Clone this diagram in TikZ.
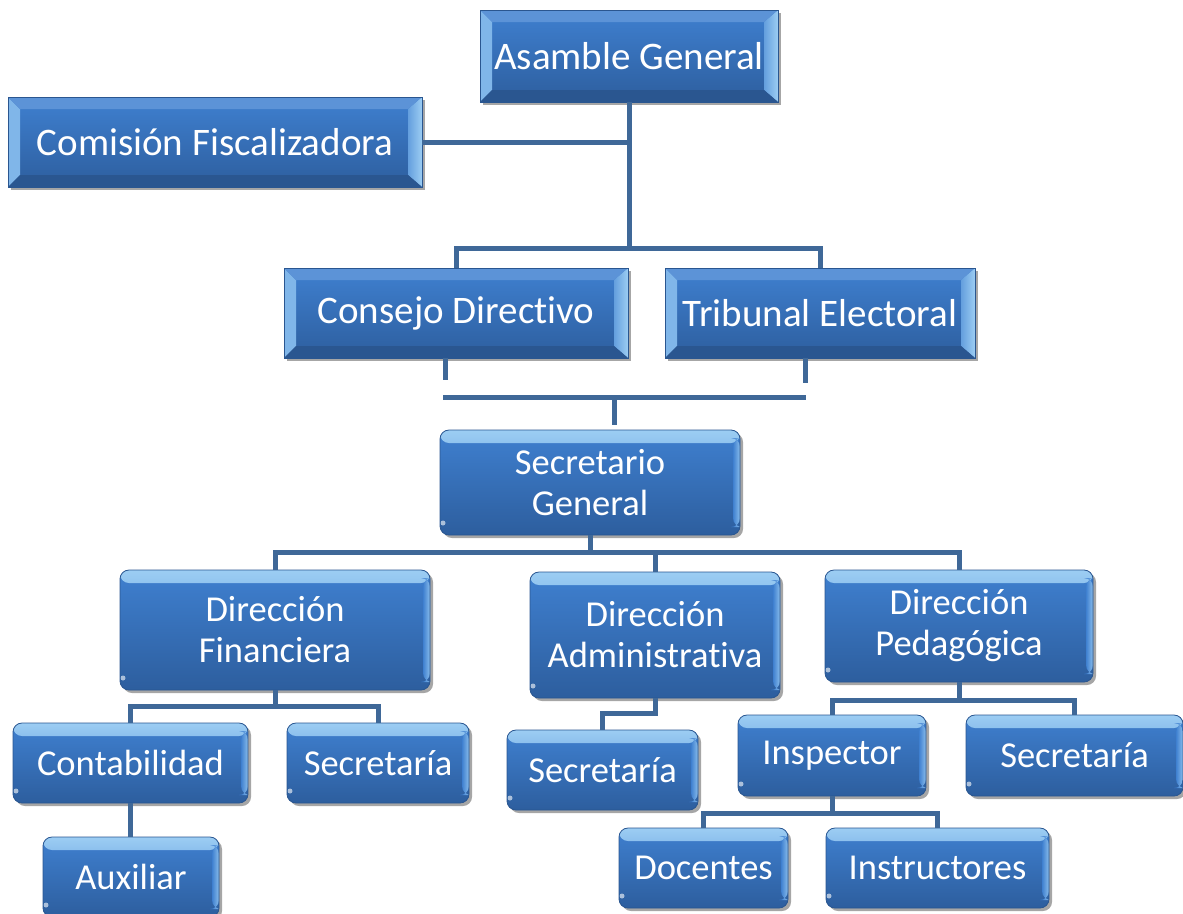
\documentclass[tikz,border=0pt]{standalone}
\usepackage{fontspec}
\setmainfont{Carlito}[RawFeature={-liga;-clig;-calt;-dlig}]
\usetikzlibrary{shadows,calc}
\definecolor{boxtop}{HTML}{3F80D0}
\definecolor{boxbot}{HTML}{2D5E9E}
\definecolor{bevlight}{HTML}{9CCDF3}
\definecolor{bevdark}{HTML}{2A5690}
\definecolor{connc}{HTML}{3F6898}
\tikzset{
  basebox/.style={draw=bevdark, line width=0.8pt, top color=boxtop, bottom color=boxbot,
    text=white, align=center, inner sep=0pt,
    drop shadow={shadow xshift=3pt, shadow yshift=-3pt, opacity=.35, fill=black}},
  topbox/.style={basebox, font=\fontsize{39}{44}\selectfont,
    path picture={
      \fill[bevlight!70!boxtop] (path picture bounding box.north west) -- ++(12,12)
        -- ($(path picture bounding box.south west)+(12,-12)$) -- (path picture bounding box.south west) -- cycle;
      \shade[left color=boxtop!60!bevlight, right color=bevlight] (path picture bounding box.north east) -- ++(-14,12)
        -- ($(path picture bounding box.south east)+(-14,-12)$) -- (path picture bounding box.south east) -- cycle;
      \fill[boxtop!85!white] (path picture bounding box.north west) -- (path picture bounding box.north east)
        -- ++(-14,12) -- ($(path picture bounding box.north west)+(12,12)$) -- cycle;
      \fill[bevdark] (path picture bounding box.south west) -- (path picture bounding box.south east)
        -- ++(-14,-12) -- ($(path picture bounding box.south west)+(12,-12)$) -- cycle;
    }},
  lowbox/.style={basebox, rounded corners=9pt, font=\fontsize{36.5}{41}\selectfont,
    path picture={
      \shade[top color=bevlight, bottom color=boxtop] (path picture bounding box.north west)
        rectangle ($(path picture bounding box.north east)+(0,13)$);
      \shade[left color=boxtop, right color=bevlight!80!boxtop] ($(path picture bounding box.north east)+(-7,8)$)
        rectangle ($(path picture bounding box.south east)+(0,-8)$);
      \fill[white, opacity=.6] ($(path picture bounding box.south west)+(3,-12)$) circle (2.5);
    }},
  conn/.style={draw=connc, line width=5pt}
}
\begin{document}
\begin{tikzpicture}[x=1pt,y=-1pt]
\useasboundingbox (0,0) rectangle (1183,913);
\coordinate (j1) at (629,248);
\coordinate (k1) at (445,380);
\coordinate (k2) at (805,383);
\coordinate (b1) at (443,397);
\coordinate (b2) at (806,397);
\coordinate (b3) at (614,397);
\coordinate (j2) at (590,552);
\coordinate (j3) at (275,706);
\coordinate (j4) at (655,713);
\coordinate (j5) at (959,700);
\coordinate (j6) at (832,813);

% boxes
\node[topbox, minimum width=298pt, minimum height=92pt] (ag) at (629,56) {Asamble General};
\node[topbox, minimum width=414pt, minimum height=90pt] (cf) at (215,142) {Comisión Fiscalizadora};
\node[topbox, minimum width=344pt, minimum height=90pt] (cd) at (456,313) {Consejo Directivo};
\node[topbox, minimum width=310pt, minimum height=90pt] (te) at (820,313) {Tribunal Electoral};
\node[lowbox, minimum width=300pt, minimum height=105pt] (sg) at (590,482.5) {Secretario\\General};
\node[lowbox, minimum width=310pt, minimum height=120pt] (df) at (275,630) {Dirección\\Financiera};
\node[lowbox, minimum width=250pt, minimum height=126pt] (da) at (655,635) {Dirección\\Administrativa};
\node[lowbox, minimum width=268pt, minimum height=112pt] (dp) at (959,626) {Dirección\\Pedagógica};
\node[lowbox, minimum width=235pt, minimum height=80pt] (co) at (130.5,763) {Contabilidad};
\node[lowbox, minimum width=182pt, minimum height=80pt] (s1) at (378,763) {Secretaría};
\node[lowbox, minimum width=176pt, minimum height=80pt] (au) at (131,877) {Auxiliar};
\node[lowbox, minimum width=191pt, minimum height=80pt] (s2) at (602.5,770) {Secretaría};
\node[lowbox, minimum width=188pt, minimum height=81pt] (in) at (832,755.5) {Inspector};
\node[lowbox, minimum width=217pt, minimum height=81pt] (s3) at (1074.5,755.5) {Secretaría};
\node[lowbox, minimum width=169pt, minimum height=80pt] (do) at (703.5,868) {Docentes};
\node[lowbox, minimum width=223pt, minimum height=80pt] (is) at (937.5,868) {Instructores};

% connectors
\draw[conn] (ag.south) -- (j1);
\draw[conn] (cf.east) -- (cf.east -| ag.south);
\draw[conn] (cd.north) |- (j1) -| (te.north);
\draw[conn] (cd.south -| k1) -- (k1);
\draw[conn] (te.south -| k2) -- (k2);
\draw[conn] (b1) -- (b2);
\draw[conn, shorten >=5pt] (b3) -- (b3 |- sg.north);
\draw[conn] (sg.south) -- (j2);
\draw[conn] (df.north) |- (j2) -| (dp.north);
\draw[conn] (da.north) -- (da.north |- j2);
\draw[conn] (df.south) -- (j3);
\draw[conn] (co.north) |- (j3) -| (s1.north);
\draw[conn] (co.south) -- (co.south |- au.north);
\draw[conn] (da.south) -- (j4) -| (s2.north);
\draw[conn] (dp.south) -- (j5);
\draw[conn] (in.north) |- (j5) -| (s3.north);
\draw[conn] (in.south) -- (j6);
\draw[conn] (do.north) |- (j6) -| (is.north);
\end{tikzpicture}
\end{document}
